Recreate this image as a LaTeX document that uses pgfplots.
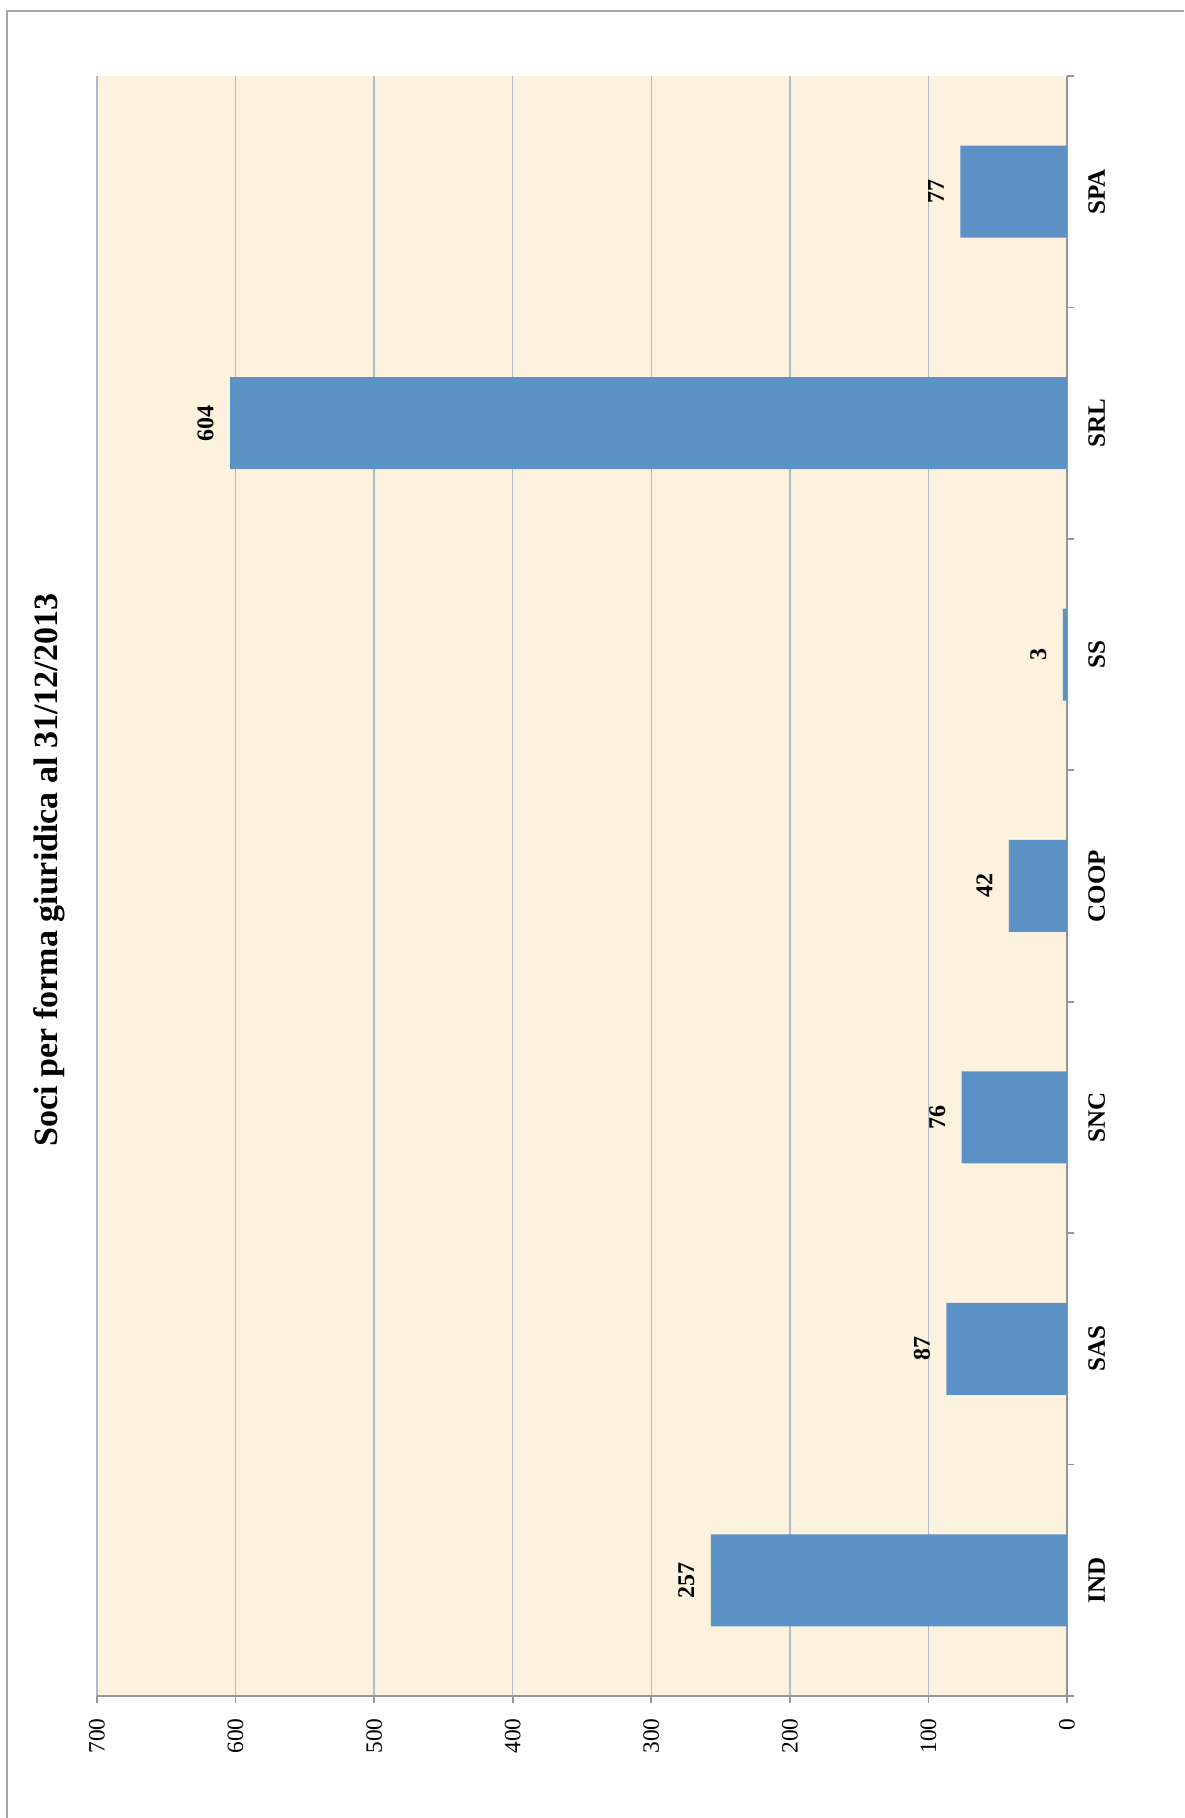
\documentclass[border=0pt]{standalone}
\usepackage{fontspec}
\setmainfont{Liberation Serif}
\usepackage{pgfplots}
\pgfplotsset{compat=1.18}
\definecolor{parch}{RGB}{252,242,222}
\definecolor{barblue}{RGB}{93,146,198}
\definecolor{gridc}{RGB}{178,186,202}
\definecolor{axc}{RGB}{150,150,150}
\definecolor{framec}{RGB}{165,165,165}
\begin{document}
\begin{tikzpicture}
\useasboundingbox (0,0) rectangle (592pt,909pt);
\draw[framec, line width=1.2pt] (3.5pt,0) -- (3.5pt,903.5pt) -- (592pt,903.5pt);
\node[rotate=90, font=\bfseries\fontsize{17}{17}\selectfont] at (24.5pt,474pt) {Soci per forma giuridica al 31/12/2013};
\begin{axis}[
  at={(291pt,466pt)}, anchor=center,
  scale only axis, width=485pt, height=810pt,
  xbar, bar width=46pt,
  x dir=reverse,
  xmin=0, xmax=700, ymin=-0.5, ymax=6.5,
  axis background/.style={fill=parch},
  axis x line*=bottom, axis y line*=right,
  axis line style={axc, line width=0.8pt},
  tick align=outside,
  major tick length=3.5pt, minor tick length=3.5pt,
  xtick={0,100,...,700},
  xmajorgrids, major x grid style={gridc, line width=0.7pt},
  xtick style={axc, line width=0.8pt},
  ytick={0,...,6},
  yticklabels={IND,SAS,SNC,COOP,SS,SRL,SPA},
  minor ytick={-0.5,0.5,...,6.5},
  ytick style={draw=none},
  minor y tick style={draw=axc, line width=0.8pt},
  /pgf/number format/assume math mode=true,
  xticklabel style={rotate=90, anchor=east, inner sep=0pt, font=\fontsize{11.7}{12}\selectfont},
  xticklabel shift=7.5pt,
  yticklabel pos=right,
  yticklabel style={rotate=90, anchor=north, inner sep=0pt, font=\bfseries\fontsize{12.5}{13}\selectfont},
  yticklabel shift=7pt,
  nodes near coords,
  every node near coord/.append style={rotate=90, anchor=south, inner sep=0pt, inner ysep=8pt, font=\bfseries\fontsize{12}{12}\selectfont, text=black},
]
\addplot[fill=barblue, draw=none] coordinates {(257,0) (87,1) (76,2) (42,3) (3,4) (604,5) (77,6)};
\end{axis}
\end{tikzpicture}
\end{document}
